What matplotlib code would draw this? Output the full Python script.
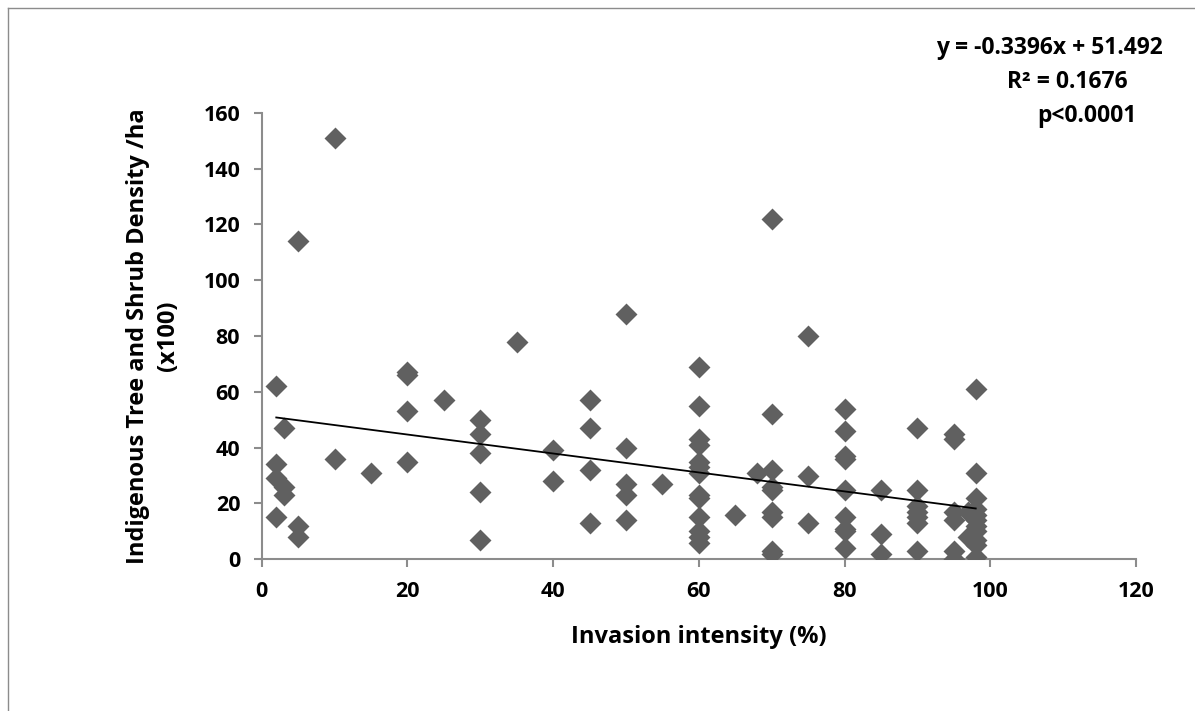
import matplotlib
matplotlib.use("Agg")
import matplotlib.pyplot as plt
import numpy as np

# Data
x_vals = ([2]*4 + [3]*3 + [5]*3 + [10]*2 + [15] + [20]*4 + [25] + [30]*5 + [35] +
          [40]*2 + [45]*4 + [50]*5 + [55] + [60]*13 + [65] + [68] + [70]*9 +
          [75]*3 + [80]*9 + [85]*3 + [90]*7 + [95]*6 + [97]*2 + [98]*11)
y_vals = ([62, 34, 29, 15] + [47, 26, 23] + [114, 12, 8] + [151, 36] + [31] +
          [67, 66, 53, 35] + [57] + [50, 45, 38, 24, 7] + [78] +
          [39, 28] + [57, 47, 32, 13] + [88, 40, 27, 23, 14] + [27] +
          [69, 55, 43, 41, 35, 33, 31, 23, 22, 15, 10, 8, 6] + [16] + [31] +
          [122, 52, 32, 26, 25, 17, 15, 3, 2] +
          [80, 30, 13] + [54, 46, 37, 36, 25, 15, 11, 10, 4] + [25, 9, 2] +
          [47, 25, 19, 17, 15, 13, 3] + [45, 43, 17, 14, 3, 0] + [17, 8] +
          [61, 31, 22, 18, 16, 14, 12, 10, 7, 5, 1])
slope = -0.3396
intercept = 51.492
eq_text = "y = -0.3396x + 51.492"
r2_text = "R² = 0.1676"
p_text = "p<0.0001"
x_ticks = [0, 20, 40, 60, 80, 100, 120]
y_ticks = [0, 20, 40, 60, 80, 100, 120, 140, 160]
x_label = "Invasion intensity (%)"
y_label = "Indigenous Tree and Shrub Density /ha\n(x100)"

plt.rcParams['font.family'] = ['Open Sans', 'DejaVu Sans']

W, H = 1195, 711
fig = plt.figure(figsize=(W/100, H/100), dpi=100)
ax = fig.add_axes([261.7/W, 1 - 559.3/H, (1136 - 261.7)/W, (559.3 - 112.7)/H])

ax.scatter(x_vals, y_vals, marker='D', s=125, color='#606060', linewidths=0, zorder=3)
xl = np.array([min(x_vals), max(x_vals)])
ax.plot(xl, slope*xl + intercept, color='black', lw=1.3, zorder=4)

ax.set_xlim(0, 120)
ax.set_ylim(0, 160)
ax.set_xticks(x_ticks)
ax.set_yticks(y_ticks)
for s in ['top', 'right']:
    ax.spines[s].set_visible(False)
for s in ['left', 'bottom']:
    ax.spines[s].set_color('#8c8c8c')
    ax.spines[s].set_linewidth(1.5)
ax.tick_params(axis='both', direction='out', length=5.5, width=1.5, color='#8c8c8c',
               labelsize=15.5, pad=10)
for lab in ax.get_xticklabels() + ax.get_yticklabels():
    lab.set_fontweight('bold')

ax.set_xlabel(x_label, fontsize=17, fontweight='bold')
ax.set_ylabel(y_label, fontsize=17, fontweight='bold', linespacing=1.35)
ax.xaxis.set_label_coords(0.5, -0.174)
ax.yaxis.set_label_coords(-0.124, 0.5)
ax.xaxis.label.set_va('center')
ax.yaxis.label.set_va('center')

fig.text(1163/W, 1 - 48/H, eq_text, ha='right', va='center', fontsize=16.5, fontweight='bold')
fig.text(1128/W, 1 - 82/H, r2_text, ha='right', va='center', fontsize=16.5, fontweight='bold')
fig.text(1137/W, 1 - 116/H, p_text, ha='right', va='center', fontsize=16.5, fontweight='bold')

# outer chart border
fig.add_artist(plt.Line2D([8/W, 8/W], [0, 1 - 8/H], transform=fig.transFigure, color='#8c8c8c', lw=1))
fig.add_artist(plt.Line2D([8/W, 1], [1 - 8/H, 1 - 8/H], transform=fig.transFigure, color='#8c8c8c', lw=1))

fig.savefig("out.png", dpi=100)
